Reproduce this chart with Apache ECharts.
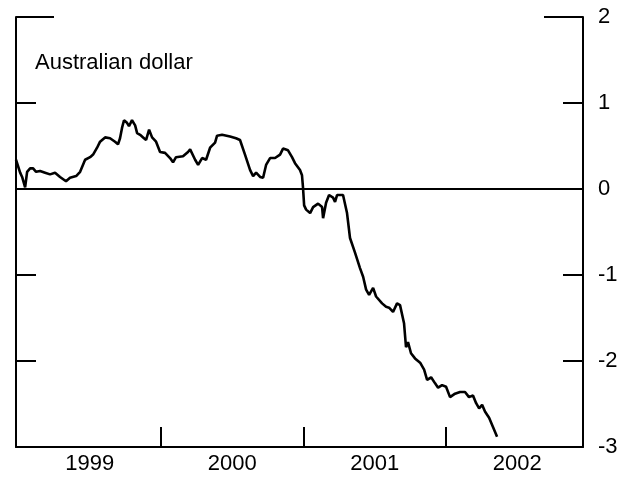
<!DOCTYPE html>
<html>
<head>
<meta charset="utf-8">
<script src="https://cdn.jsdelivr.net/npm/echarts@6/dist/echarts.min.js"></script>
<style>
  html, body { margin: 0; padding: 0; background: #fff; }
  #chart { width: 635px; height: 477px; }
</style>
</head>
<body>
<div id="chart"></div>
<script>
// dates as decimal years
const dates = [
  1998.982, 1999.011, 1999.025, 1999.046, 1999.060, 1999.081, 1999.102, 1999.123, 1999.151, 1999.186,
  1999.221, 1999.256, 1999.291, 1999.333, 1999.361, 1999.404, 1999.432, 1999.467, 1999.502, 1999.523,
  1999.551, 1999.572, 1999.607, 1999.642, 1999.677, 1999.698, 1999.712, 1999.726, 1999.740, 1999.761,
  1999.775, 1999.796, 1999.818, 1999.832, 1999.853, 1999.874, 1999.895, 1999.916, 1999.937, 1999.965,
  1999.993, 2000.028, 2000.063, 2000.084, 2000.105, 2000.154, 2000.189, 2000.204, 2000.239, 2000.260,
  2000.288, 2000.316, 2000.344, 2000.379, 2000.393, 2000.428, 2000.484, 2000.526, 2000.554, 2000.589,
  2000.625, 2000.646, 2000.667, 2000.695, 2000.716, 2000.737, 2000.765, 2000.800, 2000.835, 2000.856,
  2000.891, 2000.919, 2000.940, 2000.975, 2000.989, 2000.996, 2001.004, 2001.018, 2001.046, 2001.067,
  2001.102, 2001.130, 2001.137, 2001.158, 2001.179, 2001.207, 2001.221, 2001.235, 2001.277, 2001.305,
  2001.326, 2001.361, 2001.396, 2001.418, 2001.439, 2001.460, 2001.488, 2001.509, 2001.551, 2001.579,
  2001.600, 2001.628, 2001.656, 2001.677, 2001.705, 2001.719, 2001.733, 2001.754, 2001.782, 2001.818,
  2001.846, 2001.867, 2001.895, 2001.923, 2001.944, 2001.972, 2002.000, 2002.028, 2002.063, 2002.098,
  2002.133, 2002.161, 2002.189, 2002.211, 2002.232, 2002.253, 2002.274, 2002.302, 2002.330, 2002.358
]
const audValues = [
  0.34, 0.19, 0.14, 0.02, 0.20, 0.24, 0.24, 0.20, 0.21, 0.19,
  0.17, 0.19, 0.14, 0.09, 0.13, 0.15, 0.20, 0.34, 0.37, 0.40,
  0.48, 0.55, 0.60, 0.59, 0.55, 0.52, 0.59, 0.71, 0.80, 0.77,
  0.73, 0.80, 0.74, 0.65, 0.63, 0.60, 0.57, 0.69, 0.60, 0.55,
  0.43, 0.42, 0.36, 0.31, 0.37, 0.38, 0.43, 0.46, 0.34, 0.28,
  0.36, 0.34, 0.48, 0.54, 0.62, 0.63, 0.61, 0.59, 0.57, 0.40,
  0.22, 0.15, 0.19, 0.14, 0.13, 0.28, 0.36, 0.36, 0.40, 0.47,
  0.45, 0.37, 0.30, 0.22, 0.16, 0.02, -0.19, -0.24, -0.28, -0.21,
  -0.17, -0.21, -0.34, -0.16, -0.07, -0.10, -0.15, -0.07, -0.07, -0.28,
  -0.57, -0.74, -0.92, -1.02, -1.17, -1.23, -1.15, -1.25, -1.33, -1.37,
  -1.38, -1.43, -1.33, -1.35, -1.56, -1.84, -1.78, -1.91, -1.97, -2.02,
  -2.10, -2.22, -2.19, -2.26, -2.31, -2.28, -2.30, -2.42, -2.38, -2.36,
  -2.36, -2.42, -2.40, -2.49, -2.55, -2.51, -2.59, -2.66, -2.77, -2.88
]
const yearTicks = [2000, 2001, 2002]
const yearLabelPos = [1999.5, 2000.5, 2001.5, 2002.5]
const yMin = -3
const yMax = 2
const innerTicks = [-2, -1, 1]

const ink = '#000'
const font = 'Liberation Sans, Arial, Helvetica, sans-serif'

const chart = echarts.init(document.getElementById('chart'), null, { renderer: 'canvas' })

const yBase = {
  type: 'value',
  min: yMin,
  max: yMax,
  interval: 1,
  splitLine: { show: false },
  axisLine: { show: true, lineStyle: { color: ink, width: 2 } }
}

chart.setOption({
  animation: false,
  title: {
    text: 'Australian dollar',
    left: 30,
    top: 47,
    textStyle: { fontFamily: font, fontSize: 22, fontWeight: 'normal', color: ink }
  },
  grid: { left: 16, right: 52, top: 17, bottom: 30 },
  xAxis: {
    type: 'value',
    min: 1998.982,
    max: 2002.961,
    splitLine: { show: false },
    axisLine: { show: true, onZero: false, lineStyle: { color: ink, width: 2 } },
    axisTick: { show: true, inside: true, length: 20, customValues: yearTicks, lineStyle: { color: ink, width: 2 } },
    axisLabel: {
      customValues: yearLabelPos,
      margin: 6,
      color: ink,
      fontFamily: font,
      fontSize: 22,
      formatter: v => String(Math.floor(v))
    }
  },
  yAxis: [
    Object.assign({}, yBase, {
      position: 'left',
      axisTick: { show: true, inside: true, length: 20, customValues: innerTicks, lineStyle: { color: ink, width: 2 } },
      axisLabel: { show: false }
    }),
    Object.assign({}, yBase, {
      position: 'left',
      axisLine: { show: false },
      axisTick: { show: true, inside: true, length: 38, customValues: [yMax], lineStyle: { color: ink, width: 2 } },
      axisLabel: { show: false }
    }),
    Object.assign({}, yBase, {
      position: 'right',
      axisTick: { show: true, inside: true, length: 20, customValues: innerTicks, lineStyle: { color: ink, width: 2 } },
      axisLabel: { show: true, margin: 15, color: ink, fontFamily: font, fontSize: 22 }
    }),
    Object.assign({}, yBase, {
      position: 'right',
      axisLine: { show: false },
      axisTick: { show: true, inside: true, length: 39, customValues: [yMax], lineStyle: { color: ink, width: 2 } },
      axisLabel: { show: false }
    })
  ],
  series: [{
    type: 'line',
    name: 'Australian dollar',
    data: dates.map((d, i) => [d, audValues[i]]),
    showSymbol: false,
    lineStyle: { color: ink, width: 2.6 },
    markLine: {
      silent: true,
      symbol: 'none',
      label: { show: false },
      lineStyle: { color: ink, width: 2, type: 'solid' },
      data: [{ yAxis: 0 }]
    }
  }]
})
</script>
</body>
</html>
